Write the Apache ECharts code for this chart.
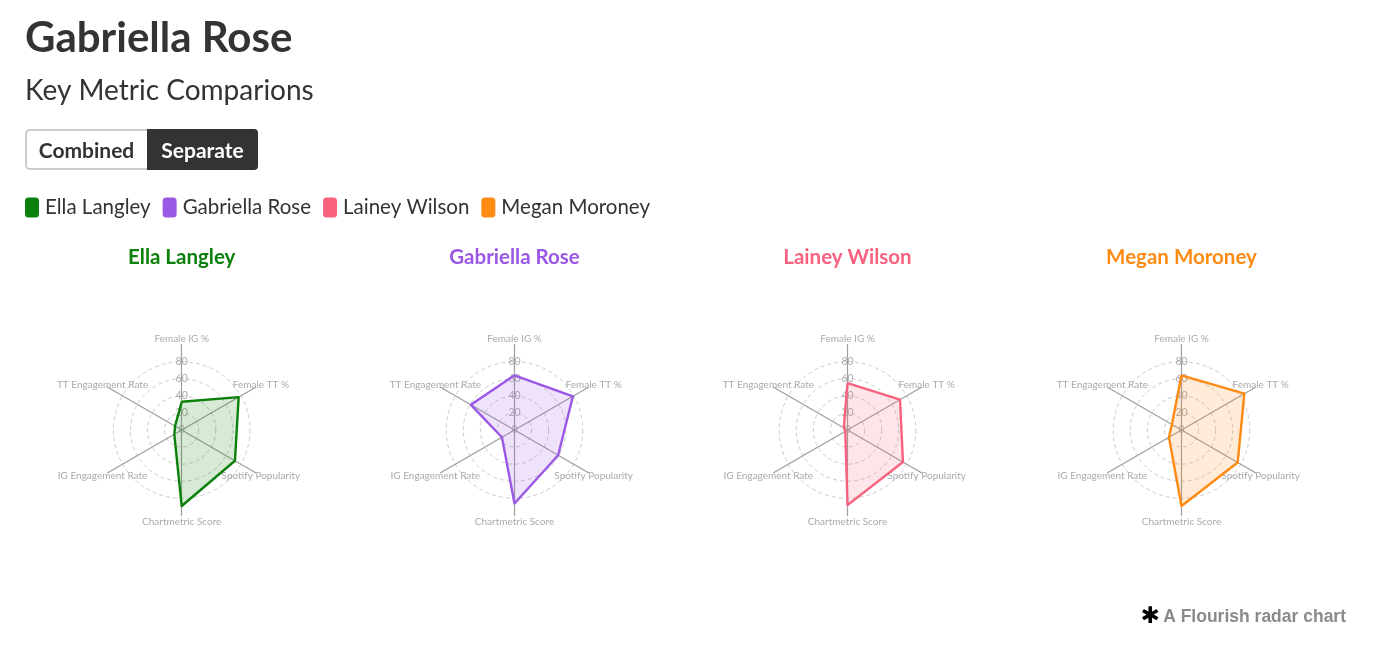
<!DOCTYPE html>
<html>
<head>
<meta charset="utf-8">
<script src="https://cdn.jsdelivr.net/npm/echarts@6/dist/echarts.min.js"></script>
<style>
html,body{margin:0;padding:0;background:#fff;}
#chart{width:1377px;height:654px;}
</style>
</head>
<body>
<div id="chart"></div>
<script>
// Metrics in clockwise order from the top
const metrics = ['Female IG %', 'Female TT %', 'Spotify Popularity', 'Chartmetric Score', 'IG Engagement Rate', 'TT Engagement Rate'];
const artists = ['Ella Langley', 'Gabriella Rose', 'Lainey Wilson', 'Megan Moroney'];
const colors = ['#0b800b', '#9b57e6', '#f9627f', '#ff8b14'];
const ellaValues = [33, 77, 72, 89, 10, 9];
const gabriellaValues = [64, 79, 59, 86, 17, 59];
const laineyValues = [55, 71, 75, 88, 3, 5];
const meganValues = [64, 85, 76, 89, 17, 13];
const ringTicks = ['0', '20', '40', '60', '80'];
const axisMax = 100;

const allValues = [ellaValues, gabriellaValues, laineyValues, meganValues];
// ECharts radar lays indicators out counter-clockwise; reorder to get the clockwise layout
const ccwOrder = [0, 5, 4, 3, 2, 1];

const FONT = 'Lato, "Source Sans Pro", "Noto Sans", sans-serif';
const centersX = [181.7, 514.5, 847.5, 1181.5];
const centerY = 430;
const radius = 85.4;

const chart = echarts.init(document.getElementById('chart'), null, {renderer: 'canvas'});

const ring = '#cccccc';
const radars = artists.map((a, i) => ({
  center: [centersX[i], centerY],
  radius: radius,
  startAngle: 90,
  shape: 'circle',
  splitNumber: 5,
  indicator: ccwOrder.map((k, j) => {
    const ind = {name: metrics[k], min: 0, max: axisMax};
    if (j === 0) {
      ind.axisLabel = {
        show: true, color: '#adadad', fontSize: 10.5, fontFamily: FONT,
        margin: 0, align: 'center', verticalAlign: 'middle', showMaxLabel: false,
        formatter: v => (ringTicks.indexOf(String(v)) >= 0 ? String(v) : '')
      };
    }
    return ind;
  }),
  axisName: {color: '#aaaaaa', fontSize: 10, fontFamily: FONT, align: 'center', verticalAlign: 'middle'},
  nameGap: 6,
  axisLine: {lineStyle: {color: '#9e9e9e', width: 1.2}},
  axisTick: {show: false},
  axisLabel: {show: false},
  splitLine: {lineStyle: {color: [ring, ring, ring, ring, ring, 'rgba(0,0,0,0)'], type: [4, 3], width: 1}},
  splitArea: {show: false}
}));

const series = artists.map((a, i) => ({
  type: 'radar',
  radarIndex: i,
  symbol: 'none',
  lineStyle: {color: colors[i], width: 2.4},
  areaStyle: {color: colors[i], opacity: 0.17},
  itemStyle: {color: colors[i]},
  silent: true,
  data: [{name: a, value: ccwOrder.map(k => allValues[i][k])}]
}));

const chartTitles = artists.map((a, i) => ({
  type: 'text', x: centersX[i], y: 257,
  style: {text: a, font: 'bold 20.5px ' + FONT, fill: colors[i], align: 'center', verticalAlign: 'middle'}
}));

chart.setOption({
  animation: false,
  backgroundColor: '#ffffff',
  legend: {
    left: 25, top: 197, padding: 0,
    icon: 'roundRect',
    itemWidth: 14, itemHeight: 20, itemGap: 12,
    selectedMode: false,
    data: artists.map((a, i) => ({name: a, itemStyle: {color: colors[i]}})),
    textStyle: {color: '#333333', fontSize: 20.5, fontFamily: FONT, padding: [0, 0, 0, 1]}
  },
  radar: radars,
  series: series,
  graphic: [
    {type: 'text', x: 25, y: 38.5, style: {text: 'Gabriella Rose', font: 'bold 42px ' + FONT, fill: '#333333', verticalAlign: 'middle'}},
    {type: 'text', x: 25, y: 91, style: {text: 'Key Metric Comparions', font: '28px ' + FONT, fill: '#333333', verticalAlign: 'middle'}},
    {type: 'rect', shape: {x: 26, y: 130, width: 231, height: 39, r: 4}, style: {fill: '#ffffff', stroke: '#cccccc', lineWidth: 2}},
    {type: 'rect', shape: {x: 147, y: 129, width: 111, height: 41, r: [0, 4, 4, 0]}, style: {fill: '#333333'}},
    {type: 'text', x: 86.5, y: 151, style: {text: 'Combined', font: 'bold 21px ' + FONT, fill: '#333333', align: 'center', verticalAlign: 'middle'}},
    {type: 'text', x: 202.5, y: 151, style: {text: 'Separate', font: 'bold 21px ' + FONT, fill: '#ffffff', align: 'center', verticalAlign: 'middle'}}
  ].concat(chartTitles).concat([
    {type: 'text', x: 1346, y: 617, style: {
      text: '{a|✱} {b|A Flourish radar chart}',
      align: 'right', verticalAlign: 'middle',
      rich: {
        a: {fontSize: 23, fill: '#000000', fontFamily: '"DejaVu Sans", sans-serif', fontWeight: 'bold'},
        b: {fontSize: 17.5, fill: '#8a8a8a', fontFamily: '"Liberation Sans", Arial, sans-serif', fontWeight: 'bold'}
      }
    }}
  ])
});
</script>
</body>
</html>
